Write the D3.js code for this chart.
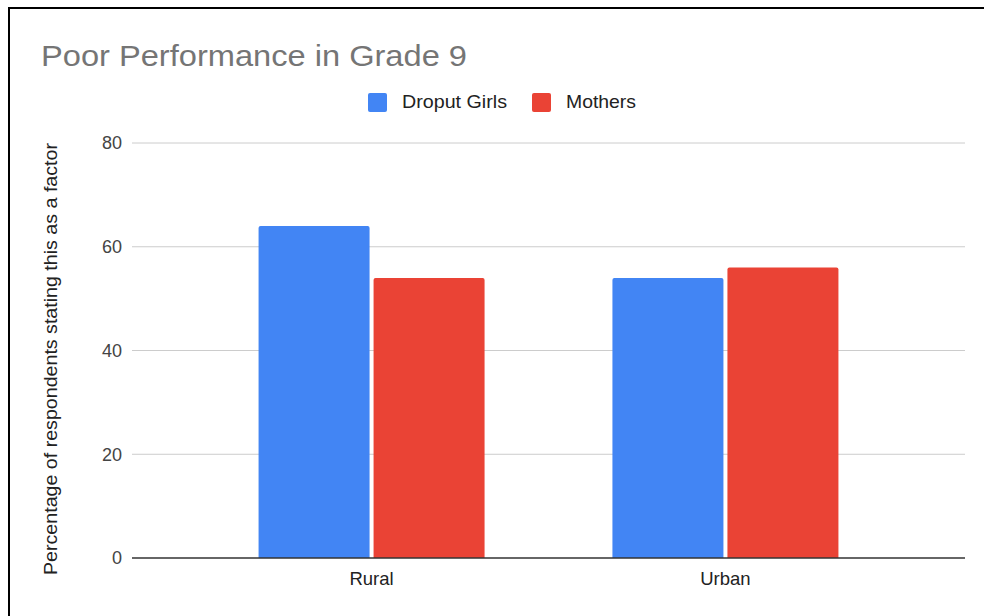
<!DOCTYPE html>
<html lang="en">
<head>
<meta charset="UTF-8">
<title>Poor Performance in Grade 9</title>
<script src="https://d3js.org/d3.v7.min.js"></script>
<style>
  body { margin: 0; background: #fff; }
  svg text { font-family: Arial, "Liberation Sans", sans-serif; }
</style>
</head>
<body>
<svg class="chart"></svg>
<script>
const categories = ['Rural', 'Urban']
const seriesNames = ['Droput Girls', 'Mothers']
const droputGirls = [64, 54]
const mothers = [54, 56]
const yTicks = [0, 20, 40, 60, 80]
const colors = ['#4285f4', '#ea4335']

const W = 984, H = 616
const svg = d3.select('.chart').attr('width', W).attr('height', H)

// frame (top + left edges visible)
svg.append('rect').attr('width', W).attr('height', H).attr('fill', '#fff')
svg.append('line').attr('x1', 8).attr('x2', W).attr('y1', 8).attr('y2', 8)
  .attr('stroke', '#000').attr('stroke-width', 2)
svg.append('line').attr('x1', 9).attr('x2', 9).attr('y1', 7).attr('y2', H)
  .attr('stroke', '#000').attr('stroke-width', 2)

const plotL = 132, plotR = 965, plotT = 143, plotB = 558

const y = d3.scaleLinear().domain([0, 80]).range([plotB, plotT])
const x = d3.scalePoint().domain(categories).range([plotL, plotR]).padding(0.677)
const barW = 111, gap = 4

// gridlines
svg.append('g').selectAll('line').data(yTicks.filter(d => d > 0)).join('line')
  .attr('x1', plotL).attr('x2', plotR)
  .attr('y1', d => y(d)).attr('y2', d => y(d))
  .attr('stroke', '#cccccc').attr('stroke-width', 1)

// tick labels
svg.append('g').selectAll('text').data(yTicks).join('text')
  .attr('x', 122).attr('y', d => y(d)).attr('dy', '0.35em')
  .attr('text-anchor', 'end').attr('font-size', 18).attr('fill', '#444')
  .text(d => d)

// bars
const series = [droputGirls, mothers]
series.forEach((vals, s) => {
  svg.append('g').selectAll('path').data(categories).join('path')
    .attr('fill', colors[s])
    .attr('d', (c, i) => {
      const x0 = x(c) - barW - gap / 2 + s * (barW + gap)
      const y0 = y(vals[i]), r = 2
      return `M${x0},${plotB}V${y0 + r}Q${x0},${y0} ${x0 + r},${y0}H${x0 + barW - r}` +
        `Q${x0 + barW},${y0} ${x0 + barW},${y0 + r}V${plotB}Z`
    })
})

// baseline
svg.append('line').attr('x1', plotL).attr('x2', plotR)
  .attr('y1', plotB).attr('y2', plotB)
  .attr('stroke', '#333').attr('stroke-width', 1.5)

// category labels
svg.append('g').selectAll('text').data(categories).join('text')
  .attr('x', d => x(d)).attr('y', 585)
  .attr('text-anchor', 'middle').attr('font-size', 18.5).attr('fill', '#222')
  .text(d => d)

// title
svg.append('text').attr('x', 41).attr('y', 66)
  .attr('font-size', 30).attr('fill', '#757575')
  .attr('textLength', 426).attr('lengthAdjust', 'spacingAndGlyphs')
  .text('Poor Performance in Grade 9')

// legend
const legendX = [368, 532]
const legendLen = [105, 70]
seriesNames.forEach((n, i) => {
  svg.append('rect').attr('x', legendX[i]).attr('y', 93).attr('width', 19).attr('height', 19)
    .attr('rx', 2).attr('fill', colors[i])
  svg.append('text').attr('x', legendX[i] + 34).attr('y', 102).attr('dy', '0.35em')
    .attr('font-size', 18.5).attr('fill', '#222')
    .attr('textLength', legendLen[i]).attr('lengthAdjust', 'spacingAndGlyphs')
    .text(n)
})

// y axis title
svg.append('text')
  .attr('transform', 'translate(57,359) rotate(-90)')
  .attr('text-anchor', 'middle').attr('font-size', 18).attr('fill', '#222')
  .attr('textLength', 432).attr('lengthAdjust', 'spacingAndGlyphs')
  .text('Percentage of respondents stating this as a factor')
</script>
</body>
</html>
